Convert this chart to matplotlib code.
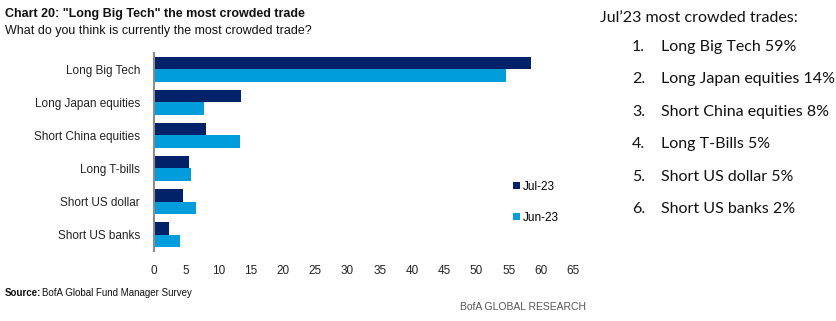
import matplotlib
matplotlib.use("Agg")
import matplotlib.pyplot as plt
import numpy as np

plt.rcParams['font.family'] = ['Liberation Sans', 'DejaVu Sans']

categories = ["Long Big Tech", "Long Japan equities", "Short China equities",
              "Long T-bills", "Short US dollar", "Short US banks"]
jul23 = [58.5, 13.5, 8.1, 5.4, 4.5, 2.3]
jun23 = [54.6, 7.7, 13.4, 5.7, 6.5, 4.0]
xticks = list(range(0, 70, 5))

ranking = ["Long Big Tech 59%", "Long Japan equities 14%", "Short China equities 8%",
           "Long T-Bills 5%", "Short US dollar 5%", "Short US banks 2%"]

navy = "#012169"
blue = "#009ddc"

fig = plt.figure(figsize=(8.37, 3.21), dpi=100)
ax = fig.add_axes([0.184, 0.218, 0.501, 0.617])

y = np.arange(len(categories))
h = 0.39
ax.barh(y - h / 2, jul23, height=h, color=navy, label="Jul-23")
ax.barh(y + h / 2, jun23, height=h, color=blue, label="Jun-23")

ax.set_ylim(len(categories) - 0.5, -0.5)
ax.set_xlim(0, 65)
ax.set_yticks(y)
ax.set_yticklabels(categories, fontsize=8.5, color="#222222")
ax.set_xticks(xticks)
ax.set_xticklabels([str(t) for t in xticks], fontsize=8.5, color="#222222")
ax.tick_params(axis="y", length=0, pad=10)
ax.tick_params(axis="x", length=0, pad=10)
for s in ["top", "right", "bottom"]:
    ax.spines[s].set_visible(False)
ax.spines["left"].set_color("#8c8c8c")
ax.spines["left"].set_linewidth(1.5)

leg = ax.legend(loc="lower left", bbox_to_anchor=(0.83, 0.085), frameon=False,
                fontsize=8.5, handlelength=0.6, handleheight=0.6,
                handletextpad=0.3, labelspacing=1.6)

fig.text(0.006, 0.955, 'Chart 20: "Long Big Tech" the most crowded trade',
         fontsize=9, fontweight="bold", color="#111111", va="center")
fig.text(0.006, 0.903, "What do you think is currently the most crowded trade?",
         fontsize=9, color="#111111", va="center")
fig.text(0.006, 0.087, "Source:", fontsize=7, fontweight="bold", color="#111111", va="center")
fig.text(0.050, 0.087, "BofA Global Fund Manager Survey", fontsize=7, color="#111111", va="center")
fig.text(0.70, 0.044, "BofA GLOBAL RESEARCH", fontsize=7.5, color="#555555", va="center", ha="right")

rfont = ['Lato', 'DejaVu Sans']
fig.text(0.717, 0.944, "Jul\u201923 most crowded trades:", fontsize=11.5,
         family=rfont, color="#111111", va="center")
for i, item in enumerate(ranking):
    yy = 1 - (47 + i * 32.4) / 321
    fig.text(0.755, yy, f"{i + 1}.", fontsize=11.5, family=rfont, color="#111111", va="center")
    fig.text(0.790, yy, item, fontsize=11.5, family=rfont, color="#111111", va="center")

fig.savefig("out.png", dpi=100)
